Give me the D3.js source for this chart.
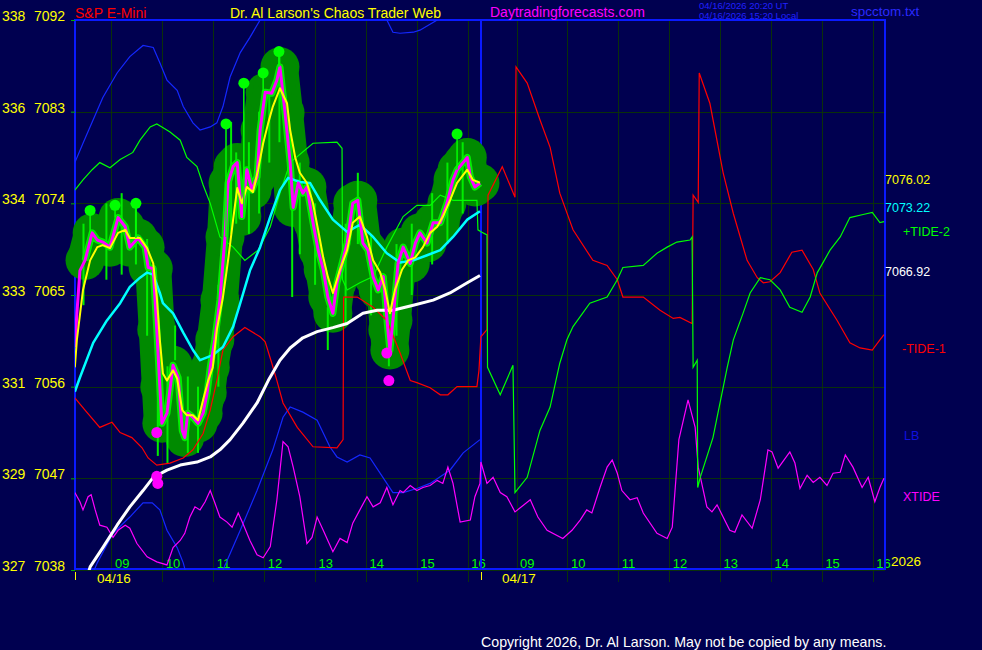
<!DOCTYPE html>
<html><head><meta charset="utf-8">
<script src="https://cdn.jsdelivr.net/npm/d3@7"></script>
<style>
body{margin:0;background:#000050}
svg{display:block}
text{font-family:Arial,"Liberation Sans",sans-serif}
</style></head>
<body><svg width="982" height="650"></svg>
<script>
// ---------- data ----------
const priceTicks = [7092,7083,7074,7065,7056,7047,7038];
const altTicks   = [338,336,334,333,331,329,327];
const hourTicks  = [9,10,11,12,13,14,15,16];
const hourLabels = ["09","10","11","12","13","14","15","16"];
const dayLabels  = ["04/16","04/17"];
const lastLabels = [7076.02,7073.22,7066.92];

// S&P price (day 1) [hour, value]
const price = [[8.28,7059.9],[8.32,7063.2],[8.38,7067.4],[8.48,7068.4],[8.62,7071.1],[8.72,7070.4],[8.83,7070.2],[8.97,7069.7],[9.13,7072.6],[9.27,7071.7],[9.36,7069.7],[9.52,7070.6],[9.66,7069.7],[9.72,7067.7],[9.82,7067.6],[9.89,7061.6],[9.95,7056.0],[9.99,7052.4],[10.09,7053.4],[10.21,7058.1],[10.31,7056.9],[10.39,7051.7],[10.44,7051.0],[10.50,7053.4],[10.60,7053.0],[10.70,7052.4],[10.80,7053.4],[10.88,7055.4],[10.94,7057.9],[11.03,7060.6],[11.13,7064.5],[11.23,7070.7],[11.29,7076.0],[11.39,7077.6],[11.47,7078.0],[11.56,7072.7],[11.66,7077.3],[11.76,7075.3],[11.86,7076.6],[11.92,7081.2],[12.02,7084.9],[12.15,7084.8],[12.25,7086.1],[12.31,7087.4],[12.41,7082.9],[12.51,7078.0],[12.57,7073.6],[12.67,7076.0],[12.76,7075.0],[12.84,7075.6],[12.96,7072.1],[13.06,7069.4],[13.16,7067.5],[13.25,7064.8],[13.35,7063.2],[13.43,7066.2],[13.53,7068.1],[13.63,7070.1],[13.74,7074.0],[13.84,7074.3],[13.94,7070.1],[14.04,7069.4],[14.14,7066.8],[14.24,7065.5],[14.34,7066.8],[14.43,7061.6],[14.47,7059.6],[14.53,7062.5],[14.63,7068.1],[14.73,7069.7],[14.87,7068.1],[14.97,7070.1],[15.06,7071.1],[15.20,7070.1],[15.32,7072.1],[15.46,7072.1],[15.59,7074.0],[15.71,7076.3],[15.79,7077.3],[15.91,7078.0],[15.99,7078.5],[16.05,7076.6],[16.14,7075.6],[16.24,7076.0]];

// short average (yellow)
const fastAvg = [[8.28,7057.9],[8.32,7060.6],[8.44,7065.5],[8.58,7068.4],[8.72,7069.7],[8.83,7069.9],[8.97,7069.6],[9.13,7071.1],[9.27,7071.4],[9.36,7070.6],[9.56,7070.6],[9.70,7069.6],[9.82,7068.1],[9.89,7064.8],[9.95,7060.6],[10.01,7057.3],[10.09,7056.6],[10.21,7057.6],[10.29,7056.8],[10.39,7053.7],[10.48,7053.2],[10.60,7053.2],[10.70,7052.7],[10.80,7054.7],[10.90,7056.6],[10.99,7057.9],[11.07,7061.6],[11.19,7064.8],[11.29,7068.4],[11.39,7072.4],[11.47,7075.5],[11.56,7074.0],[11.66,7075.6],[11.78,7075.1],[11.88,7077.3],[11.98,7079.9],[12.08,7081.9],[12.17,7083.5],[12.31,7085.3],[12.45,7083.8],[12.51,7081.2],[12.61,7078.5],[12.70,7077.0],[12.84,7076.0],[12.96,7074.0],[13.06,7071.4],[13.16,7068.7],[13.25,7066.8],[13.35,7065.2],[13.49,7067.5],[13.63,7069.4],[13.74,7072.1],[13.88,7072.7],[14.02,7070.7],[14.14,7068.4],[14.28,7067.2],[14.38,7065.5],[14.47,7063.2],[14.57,7065.5],[14.71,7067.5],[14.83,7068.4],[14.97,7068.7],[15.12,7069.7],[15.26,7071.1],[15.40,7071.7],[15.51,7072.7],[15.65,7074.3],[15.79,7076.0],[15.99,7077.3],[16.10,7076.3],[16.24,7076.02]];

// medium average (cyan)
const midAvg = [[8.28,7055.5],[8.38,7056.9],[8.64,7060.3],[8.91,7062.5],[9.17,7064.2],[9.36,7065.8],[9.56,7066.7],[9.70,7067.2],[9.82,7067.0],[9.95,7065.2],[10.01,7064.2],[10.21,7063.2],[10.41,7061.3],[10.60,7059.6],[10.74,7058.6],[10.99,7059.1],[11.19,7059.9],[11.39,7061.9],[11.53,7064.2],[11.72,7067.4],[11.92,7069.7],[12.12,7072.7],[12.31,7075.3],[12.47,7076.5],[12.70,7076.1],[12.90,7076.0],[13.10,7074.3],[13.35,7072.4],[13.63,7071.2],[13.88,7071.9],[14.14,7070.7],[14.41,7069.1],[14.67,7068.2],[14.93,7068.4],[15.20,7068.9],[15.46,7069.4],[15.71,7070.7],[15.99,7072.4],[16.24,7073.22]];

// long average (white)
const slowAvg = [[8.50,7037.0],[8.58,7038.3],[8.83,7040.2],[9.11,7042.4],[9.36,7044.2],[9.62,7045.8],[9.82,7047.1],[10.09,7047.8],[10.35,7048.3],[10.68,7048.6],[10.94,7049.1],[11.13,7049.8],[11.33,7050.8],[11.58,7052.4],[11.86,7054.4],[12.08,7056.6],[12.31,7058.6],[12.51,7059.8],[12.76,7060.8],[13.04,7061.4],[13.35,7061.8],[13.63,7062.2],[13.94,7063.2],[14.22,7063.5],[14.53,7063.5],[14.93,7064.0],[15.32,7064.5],[15.65,7065.2],[15.99,7066.2],[16.24,7066.92]];

// LB bands (blue, day 1)
const lbUpper = [[8.28,7078.0],[8.44,7079.9],[8.64,7082.2],[8.83,7084.4],[9.11,7086.8],[9.36,7088.4],[9.62,7089.5],[9.82,7089.3],[9.95,7087.8],[10.09,7086.1],[10.29,7085.1],[10.41,7083.5],[10.60,7081.9],[10.74,7081.2],[10.94,7081.5],[11.07,7081.9],[11.19,7083.5],[11.33,7086.4],[11.53,7088.8],[11.72,7090.3],[11.92,7092.0],[12.51,7094.5],[13.29,7095.0],[14.08,7093.5],[14.41,7092.0],[14.53,7090.8],[14.67,7090.7],[14.93,7090.8],[15.06,7091.0],[15.40,7092.0],[15.85,7093.5],[16.24,7094.5]];
const lbLower = [[8.62,7037.5],[8.72,7038.7],[9.03,7041.6],[9.36,7043.2],[9.62,7044.6],[9.80,7044.6],[9.95,7043.9],[10.09,7041.9],[10.29,7040.2],[10.41,7038.7],[10.50,7037.0],[10.74,7034.0],[11.03,7036.0],[11.19,7038.0],[11.53,7041.9],[11.86,7045.8],[12.17,7049.8],[12.37,7053.0],[12.51,7054.0],[12.76,7053.5],[13.04,7052.7],[13.29,7050.1],[13.43,7049.1],[13.63,7048.6],[13.88,7049.3],[14.08,7049.0],[14.41,7046.5],[14.53,7045.6],[14.73,7045.6],[15.00,7046.0],[15.26,7046.5],[15.65,7047.8],[15.91,7049.5],[16.24,7050.8]];

// -TIDE-1 (red)
const tide1Day1 = [[8.28,7054.9],[8.48,7053.7],[8.77,7052.0],[9.01,7052.5],[9.17,7051.5],[9.40,7051.0],[9.60,7050.0],[9.72,7049.0],[9.89,7048.3],[10.15,7048.5],[10.41,7049.0],[10.60,7049.8],[10.80,7051.4],[10.94,7053.7],[11.07,7056.6],[11.19,7059.6],[11.39,7060.9],[11.62,7061.8],[11.92,7060.9],[12.02,7060.4],[12.15,7058.3],[12.25,7056.6],[12.37,7054.4],[12.65,7052.0],[12.96,7050.1],[13.43,7050.0],[13.55,7050.8],[13.56,7064.8],[13.83,7064.8],[14.14,7063.8],[14.41,7062.5],[14.67,7059.3],[14.87,7056.6],[15.00,7056.4],[15.26,7055.9],[15.46,7055.2],[15.61,7055.2],[15.79,7056.0],[16.18,7056.0],[16.22,7057.6]];
const tide1Day2 = [[8.30,7060.9],[8.42,7061.6],[8.44,7074.8],[8.72,7077.6],[8.97,7074.6],[8.99,7087.4],[9.21,7085.8],[9.46,7082.2],[9.66,7079.5],[9.85,7075.0],[10.11,7071.4],[10.50,7068.4],[10.78,7067.9],[10.98,7066.5],[11.09,7064.8],[11.49,7064.8],[11.82,7063.5],[12.08,7062.7],[12.21,7062.8],[12.45,7062.2],[12.47,7074.8],[12.57,7074.1],[12.59,7086.8],[12.80,7083.8],[13.06,7077.0],[13.26,7073.0],[13.53,7068.4],[13.73,7066.7],[13.85,7066.2],[13.98,7066.3],[14.18,7067.2],[14.41,7069.2],[14.61,7069.4],[14.83,7067.5],[14.96,7065.2],[15.30,7062.5],[15.55,7060.3],[15.75,7059.8],[15.99,7059.6],[16.14,7060.6],[16.22,7061.1]];

// +TIDE-2 (green)
const tide2Day1 = [[8.28,7075.3],[8.44,7076.3],[8.62,7077.3],[8.77,7078.0],[8.97,7077.5],[9.17,7078.3],[9.42,7079.0],[9.56,7080.2],[9.76,7081.5],[9.89,7081.8],[9.99,7081.5],[10.15,7081.0],[10.35,7080.2],[10.48,7078.5],[10.68,7077.6],[10.80,7075.8],[10.94,7074.0],[11.13,7070.7],[11.39,7069.7],[11.62,7068.4],[11.88,7069.4],[12.12,7071.7],[12.31,7075.0],[12.51,7078.0],[12.96,7079.9],[13.43,7080.0],[13.53,7079.4],[13.54,7066.5],[13.63,7065.5],[13.88,7066.2],[14.14,7066.8],[14.41,7069.7],[14.73,7072.7],[15.00,7073.8],[15.26,7073.8],[15.46,7074.8],[15.71,7074.3],[16.18,7074.3],[16.20,7071.4]];
const tide2Day2 = [[8.30,7071.2],[8.42,7070.9],[8.43,7057.9],[8.68,7055.2],[8.93,7058.1],[8.97,7045.6],[9.21,7047.1],[9.46,7051.7],[9.66,7054.0],[9.85,7058.3],[9.99,7060.6],[10.11,7061.9],[10.44,7064.2],[10.78,7064.8],[10.98,7066.5],[11.09,7067.7],[11.49,7067.9],[11.76,7069.1],[11.96,7069.7],[12.15,7070.2],[12.41,7070.4],[12.45,7070.7],[12.47,7057.9],[12.55,7058.6],[12.56,7046.1],[12.61,7047.1],[12.86,7051.0],[13.14,7057.9],[13.26,7060.6],[13.45,7063.2],[13.59,7065.2],[13.79,7066.7],[13.98,7066.5],[14.18,7065.5],[14.37,7063.8],[14.61,7063.3],[14.77,7064.8],[14.91,7067.2],[15.16,7069.4],[15.36,7070.7],[15.55,7072.6],[15.81,7072.9],[15.99,7073.1],[16.14,7072.1],[16.22,7072.2]];

// XTIDE (magenta thin)
const xtideDay1 = [[8.28,7045.6],[8.38,7044.7],[8.44,7043.9],[8.54,7045.2],[8.60,7045.4],[8.68,7043.9],[8.77,7042.4],[8.91,7042.2],[9.03,7041.2],[9.13,7041.9],[9.27,7042.4],[9.36,7042.1],[9.50,7040.6],[9.70,7039.3],[9.89,7038.8],[10.09,7038.5],[10.21,7040.2],[10.35,7040.9],[10.44,7041.6],[10.54,7043.2],[10.64,7044.2],[10.74,7043.9],[10.84,7044.7],[10.94,7045.8],[11.03,7044.6],[11.13,7043.2],[11.27,7042.7],[11.37,7042.2],[11.49,7043.6],[11.58,7042.6],[11.72,7040.9],[11.86,7039.5],[11.98,7039.2],[12.12,7040.3],[12.25,7044.9],[12.37,7050.6],[12.47,7050.1],[12.57,7048.1],[12.70,7045.2],[12.84,7040.6],[12.94,7041.2],[13.04,7043.2],[13.16,7041.9],[13.25,7040.9],[13.35,7039.8],[13.49,7041.1],[13.63,7040.7],[13.74,7042.6],[13.88,7043.9],[14.02,7045.2],[14.14,7044.2],[14.28,7044.6],[14.41,7046.1],[14.53,7044.4],[14.67,7045.8],[14.73,7045.6],[14.87,7046.3],[15.00,7045.8],[15.12,7046.1],[15.26,7046.3],[15.40,7046.8],[15.51,7046.5],[15.61,7048.1],[15.71,7046.5],[15.85,7042.7],[16.05,7042.9],[16.14,7045.2],[16.24,7046.5]];
const xtideDay2 = [[8.30,7048.6],[8.42,7046.5],[8.54,7047.1],[8.68,7045.6],[8.81,7045.2],[8.97,7043.7],[9.27,7044.9],[9.42,7043.2],[9.60,7041.9],[9.91,7041.1],[10.09,7041.9],[10.25,7042.9],[10.38,7043.9],[10.48,7043.6],[10.64,7046.1],[10.78,7048.1],[10.88,7048.8],[10.98,7047.5],[11.07,7045.8],[11.23,7044.9],[11.37,7045.1],[11.49,7043.6],[11.76,7041.6],[11.96,7041.1],[12.06,7042.2],[12.19,7050.8],[12.37,7054.7],[12.51,7052.0],[12.57,7048.1],[12.74,7044.2],[12.84,7043.7],[12.94,7044.4],[13.19,7041.9],[13.29,7041.7],[13.43,7043.4],[13.63,7042.1],[13.79,7044.9],[13.94,7049.8],[14.02,7049.6],[14.14,7048.0],[14.37,7049.6],[14.47,7048.5],[14.57,7046.0],[14.71,7047.3],[14.83,7046.6],[14.96,7047.1],[15.10,7046.3],[15.22,7047.5],[15.36,7047.6],[15.46,7049.3],[15.61,7048.1],[15.79,7046.1],[15.91,7047.1],[16.04,7044.7],[16.14,7046.1],[16.22,7047.0]];

// turning point markers
const highMarks = [[8.58,7073.3],[9.07,7073.8],[9.48,7074.0],[11.25,7081.8],[11.60,7085.8],[11.98,7086.8],[12.29,7088.9],[15.79,7080.8]];
const lowMarks  = [[9.89,7051.5],[9.89,7047.2],[9.91,7046.5],[14.41,7059.3],[14.45,7056.6]];
// bar spikes [hour, high, low]
const spikes = [[8.45,7072.0,7064.0],[8.90,7074.0,7066.5],[9.20,7075.0,7067.0],[9.48,7074.0,7068.0],[9.70,7070.5,7061.0],[9.91,7060.0,7049.2],[10.10,7058.0,7048.5],[10.25,7062.0,7058.6],[10.50,7057.0,7049.5],[10.70,7056.0,7049.5],[11.10,7066.0,7056.0],[11.35,7082.0,7071.0],[11.45,7079.0,7072.0],[11.70,7080.0,7071.0],[11.90,7083.0,7073.0],[12.10,7085.0,7078.0],[12.30,7089.0,7080.0],[12.55,7074.1,7064.8],[12.70,7078.0,7069.0],[13.00,7074.0,7066.0],[13.25,7063.8,7059.6],[13.60,7072.0,7062.0],[13.84,7077.0,7070.0],[14.10,7071.0,7063.0],[14.45,7063.0,7058.0],[14.60,7070.0,7061.0],[14.90,7072.0,7065.0],[15.30,7075.0,7068.0],[15.60,7078.0,7070.0],[15.90,7080.0,7073.0]];

// ---------- scales ----------
const L=75, R=885, MID=481, T=20, B=570;
const x1 = d3.scaleLinear().domain([8.283,16.26]).range([L,MID]);
const x2 = d3.scaleLinear().domain([8.302,16.24]).range([MID,R]);
const y  = d3.scaleLinear().domain([7038,7092]).range([B,T]);
const P1 = d=>[x1(d[0]),y(d[1])], P2 = d=>[x2(d[0]),y(d[1])];
const line = d3.line();
const path = (a,b)=>line(a.map(P1).concat((b||[]).map(P2)));

const svg = d3.select("svg");
svg.append("rect").attr("width",982).attr("height",650).attr("fill","#000050");
svg.append("clipPath").attr("id","plot").append("rect").attr("x",L).attr("y",T).attr("width",R-L).attr("height",B-T);

// grid
const grid = svg.append("g").attr("stroke","#0a300a").attr("stroke-width",1).attr("shape-rendering","crispEdges");
priceTicks.forEach(v=>grid.append("line").attr("x1",L).attr("x2",R).attr("y1",Math.round(y(v))+0.5).attr("y2",Math.round(y(v))+0.5));
hourTicks.forEach(h=>{
  [x1,x2].forEach(sx=>grid.append("line").attr("x1",Math.round(sx(h))+0.5).attr("x2",Math.round(sx(h))+0.5).attr("y1",T).attr("y2",B+12));
});

// x-axis hour labels
const xlab = svg.append("g").attr("fill","#00ff00").style("font-size","13px");
hourTicks.forEach((h,i)=>{
  xlab.append("text").attr("x",x1(h)+3.5).attr("y",568).text(hourLabels[i]);
  xlab.append("text").attr("x",x2(h)+3.5).attr("y",568).text(hourLabels[i]);
});

// borders
const bd = svg.append("g").attr("stroke","#0a1aff").attr("stroke-width",2).attr("fill","none");
bd.append("rect").attr("x",L).attr("y",T).attr("width",R-L).attr("height",B-T-1);
bd.append("line").attr("x1",MID).attr("x2",MID).attr("y1",T).attr("y2",B-1);
[L,MID].forEach(xx=>svg.append("line").attr("x1",xx+0.5).attr("x2",xx+0.5).attr("y1",572).attr("y2",580).attr("stroke","#ffff00"));

// date labels & year
svg.append("text").attr("x",97).attr("y",583).attr("fill","#ffff00").style("font-size","13.5px").text(dayLabels[0]);
svg.append("text").attr("x",502).attr("y",583).attr("fill","#ffff00").style("font-size","13.5px").text(dayLabels[1]);
svg.append("text").attr("x",891).attr("y",566).attr("fill","#ffff00").style("font-size","13.5px").text("2026");

// price envelope (blobs), built from the price points after the opening rise
const blobPts = price.slice(3);
const blob = svg.append("g");
blob.append("path").attr("d",path(blobPts)).attr("fill","none").attr("stroke","#008a00").attr("stroke-width",36).attr("stroke-linejoin","round").attr("stroke-linecap","round");
blob.selectAll("circle").data(blobPts).join("circle").attr("cx",d=>x1(d[0])).attr("cy",d=>y(d[1])).attr("r",19.5).attr("fill","#008a00");
blob.selectAll("line").data(spikes).join("line").attr("x1",d=>x1(d[0])).attr("x2",d=>x1(d[0])).attr("y1",d=>y(d[1])).attr("y2",d=>y(d[2])).attr("stroke","#00ee00").attr("stroke-width",2);
blob.append("path").attr("d",path(blobPts)).attr("fill","none").attr("stroke","#00ee00").attr("stroke-width",7).attr("stroke-linejoin","round");

// y-axis labels (drawn above the envelope)
const ylab = svg.append("g").attr("fill","#ffff00").style("font-size","14px");
priceTicks.forEach((v,i)=>{
  ylab.append("text").attr("x",2).attr("y",y(v)+1).text(altTicks[i]);
  ylab.append("text").attr("x",34).attr("y",y(v)+1).text(v);
  svg.append("line").attr("x1",71).attr("x2",75).attr("y1",y(v)+0.5).attr("y2",y(v)+0.5).attr("stroke","#00b000");
});

// thin indicator lines
const thin = svg.append("g").attr("clip-path","url(#plot)").attr("fill","none").attr("stroke-width",1.2);
thin.append("path").attr("d",path(lbUpper)).attr("stroke","#1428ff");
thin.append("path").attr("d",path(lbLower)).attr("stroke","#1428ff");
thin.append("path").attr("d",path(xtideDay1,xtideDay2)).attr("stroke","#ff00ff");
thin.append("path").attr("d",path(tide1Day1,tide1Day2)).attr("stroke","#ff0000");
thin.append("path").attr("d",path(tide2Day1,tide2Day2)).attr("stroke","#00ff00");

// averages and price
const avg = svg.append("g").attr("clip-path","url(#plot)").attr("fill","none").attr("stroke-linejoin","round");
avg.append("path").attr("d",path(slowAvg)).attr("stroke","#ffffff").attr("stroke-width",3);
avg.append("path").attr("d",path(midAvg)).attr("stroke","#00ffff").attr("stroke-width",2.5);
avg.append("path").attr("d",path(price)).attr("stroke","#ff00ff").attr("stroke-width",3);
avg.append("path").attr("d",path(fastAvg)).attr("stroke","#ffff00").attr("stroke-width",2);

// markers
const priceAt = h=>{const i=d3.bisector(d=>d[0]).center(price,h);return price[i][1];};
const mk = svg.append("g");
mk.selectAll("line").data(highMarks).join("line").attr("x1",d=>x1(d[0])).attr("x2",d=>x1(d[0])).attr("y1",d=>y(d[1])).attr("y2",d=>y(priceAt(d[0]))).attr("stroke","#00ff00").attr("stroke-width",1.5);
mk.selectAll("circle.h").data(highMarks).join("circle").attr("class","h").attr("cx",d=>x1(d[0])).attr("cy",d=>y(d[1])).attr("r",5.5).attr("fill","#00ff00");
mk.selectAll("circle.l").data(lowMarks).join("circle").attr("class","l").attr("cx",d=>x1(d[0])).attr("cy",d=>y(d[1])).attr("r",5.5).attr("fill","#ff00ff");

// right labels
const rl = svg.append("g").style("font-size","12.5px");
const lastCols = ["#ffff00","#00ffff","#ffffff"];
lastLabels.forEach((v,i)=>rl.append("text").attr("x",885).attr("y",y(v)+1).attr("fill",lastCols[i]).text(v.toFixed(2)));
rl.append("text").attr("x",903).attr("y",236).attr("fill","#00ff00").text("+TIDE-2");
rl.append("text").attr("x",902).attr("y",353).attr("fill","#ff0000").text("-TIDE-1");
rl.append("text").attr("x",904).attr("y",440).attr("fill","#1010e0").text("LB");
rl.append("text").attr("x",903).attr("y",501).attr("fill","#ff00ff").text("XTIDE");

// header
svg.append("text").attr("x",75).attr("y",18).attr("fill","#ff0000").style("font-size","14px").text("S&P E-Mini");
svg.append("text").attr("x",230).attr("y",18).attr("fill","#ffff00").style("font-size","14px").text("Dr. Al Larson's Chaos Trader Web");
svg.append("text").attr("x",490).attr("y",17).attr("fill","#ff00ff").style("font-size","14px").text("Daytradingforecasts.com");
svg.append("text").attr("x",699).attr("y",9).attr("fill","#2020ff").style("font-size","9.5px").text("04/16/2026 20:20 UT");
svg.append("text").attr("x",699).attr("y",19).attr("fill","#2020ff").style("font-size","9.5px").text("04/16/2026 15:20 Local");
svg.append("text").attr("x",851).attr("y",16).attr("fill","#2a2aff").style("font-size","13.5px").text("spcctom.txt");
svg.append("text").attr("x",481).attr("y",647).attr("fill","#ffffff").style("font-size","14.2px").text("Copyright 2026, Dr. Al Larson. May not be copied by any means.");
</script></body></html>
